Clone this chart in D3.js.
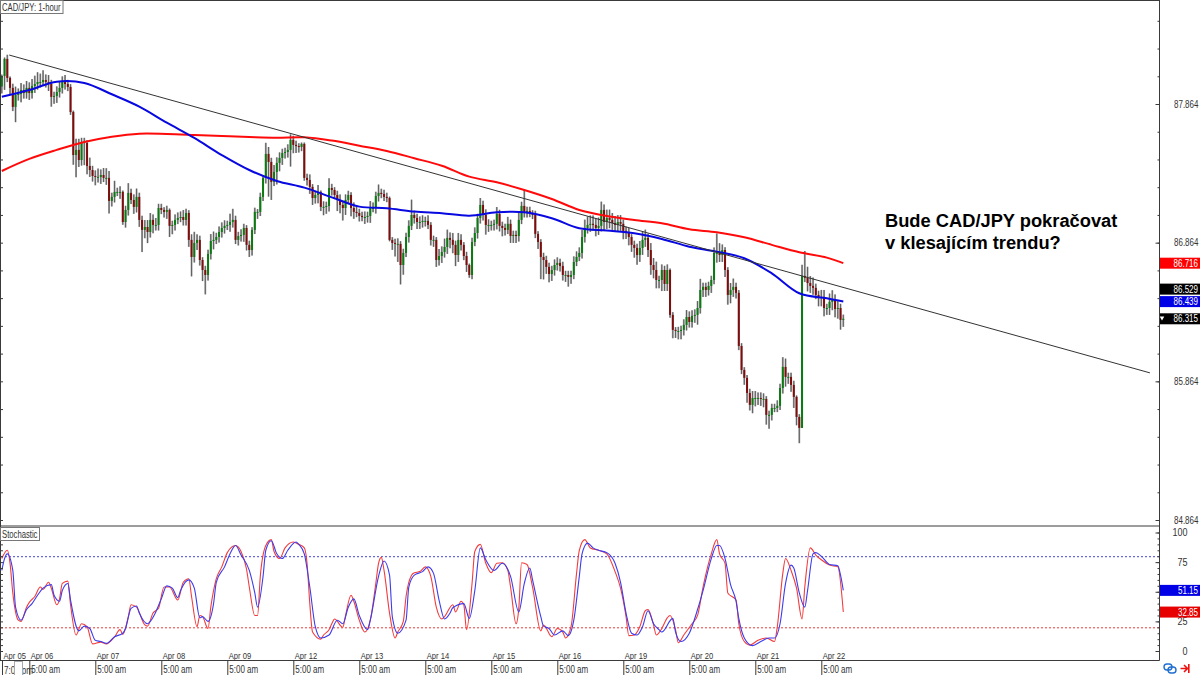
<!DOCTYPE html>
<html><head><meta charset="utf-8">
<script src="https://d3js.org/d3.v7.min.js"></script>
<style>
html,body{margin:0;padding:0;background:#fff}
svg{display:block}
text{font-family:"Liberation Sans",Arial,sans-serif}
</style></head><body>
<div id="chart"></div>
<script>
const closes=[88.066,88.189,88.052,87.980,87.843,87.929,87.936,87.965,87.943,87.980,
87.943,87.994,88.008,88.023,88.023,88.037,88.023,88.008,87.915,87.922,
87.951,87.980,88.023,88.008,87.987,87.806,87.496,87.533,87.460,87.590,
87.583,87.417,87.388,87.345,87.338,87.338,87.352,87.331,87.331,87.165,
87.194,87.230,87.230,87.230,87.013,87.100,87.223,87.172,87.122,87.194,
87.028,86.956,86.977,86.941,87.028,86.992,86.992,87.114,87.100,87.086,
87.100,86.985,86.992,87.028,87.042,87.049,87.028,87.078,86.884,86.761,
86.862,86.884,86.739,86.667,86.631,86.783,86.876,86.884,86.905,86.941,
86.970,86.985,86.992,87.013,87.028,86.884,86.912,86.920,86.970,86.848,
86.811,86.956,87.086,87.086,87.194,87.331,87.504,87.446,87.302,87.374,
87.439,87.475,87.511,87.518,87.533,87.605,87.569,87.561,87.554,87.576,
87.331,87.316,87.266,87.186,87.208,87.230,87.122,87.122,87.129,87.258,
87.244,87.208,87.172,87.136,87.114,87.172,87.208,87.114,87.086,87.078,
87.057,87.049,87.049,87.057,87.114,87.114,87.201,87.223,87.215,87.194,
87.186,86.884,86.862,86.855,86.855,86.703,86.790,86.905,86.985,87.064,
87.042,87.013,87.013,87.021,87.021,86.992,86.884,86.884,86.739,86.768,
86.797,86.833,86.898,86.884,86.848,86.775,86.884,86.848,86.768,86.703,
86.631,86.869,86.934,87.042,87.136,87.064,86.992,86.992,86.992,87.000,
87.071,86.985,86.970,86.956,87.000,86.912,86.920,86.912,87.028,87.129,
87.086,87.093,87.078,87.064,86.927,86.869,86.761,86.739,86.689,86.638,
86.667,86.703,86.718,86.696,86.631,86.631,86.617,86.631,86.725,86.761,
86.790,86.905,86.970,86.992,87.000,86.992,86.970,86.985,87.100,87.013,
87.042,87.028,87.006,86.992,87.013,87.000,86.949,86.941,86.905,86.848,
86.826,86.775,86.826,86.884,86.898,86.811,86.703,86.667,86.595,86.595,
86.667,86.566,86.667,86.343,86.235,86.227,86.227,86.235,86.271,86.328,
86.292,86.336,86.343,86.393,86.523,86.545,86.523,86.552,86.595,86.790,
86.790,86.775,86.811,86.667,86.487,86.523,86.545,86.502,86.119,85.946,
85.889,85.780,85.694,85.744,85.744,85.744,85.737,85.737,85.622,85.622,
85.672,85.672,85.687,85.816,85.968,85.896,85.896,85.838,85.752,85.607,
85.528,86.624,86.610,86.573,86.552,86.538,86.487,86.465,86.473,86.393,
86.393,86.437,86.451,86.386,86.393,86.307,86.315];
const firstOpen=87.99;
const upWickPips=[1,1,3,1,3,6,4,5,4,5,
4,5,6,7,6,7,4,5,3,3,
4,5,4,5,3,2,1,8,8,3,
3,2,6,3,4,6,4,5,7,5,
3,8,3,4,1,3,7,3,4,6,
3,3,5,5,5,4,5,3,3,2,
3,1,3,4,4,4,5,3,2,4,
8,4,3,2,3,3,5,6,3,4,
4,4,3,6,8,3,3,4,3,2,
3,2,3,2,3,2,8,5,3,5,
4,4,3,3,4,4,3,3,2,1,
1,3,4,2,3,5,1,4,3,7,
3,2,3,4,3,4,3,2,4,4,
3,3,4,3,5,4,3,6,3,3,
3,1,2,3,4,2,3,3,4,11,
3,3,4,4,3,4,2,3,2,5,
4,6,6,4,5,3,5,4,2,3,
1,3,4,3,5,3,4,4,3,3,
5,3,3,3,5,3,3,3,5,3,
12,3,3,2,3,2,2,3,3,3,
3,4,4,3,3,3,3,3,4,4,
4,5,6,6,6,6,5,6,6,4,
6,6,5,5,5,5,3,3,3,2,
3,3,5,6,6,3,5,5,6,3,
4,3,4,1,2,2,3,3,4,5,
4,4,4,5,8,3,3,3,3,4,
14,7,4,2,2,5,6,3,2,2,
2,2,3,5,5,4,4,4,2,3,
3,3,4,3,7,6,3,3,3,1,
2,8,18,8,5,6,3,3,5,5,
3,6,7,4,5,3,3];
const downWickPips=[5,10,3,5,3,11,4,6,4,4,
5,4,5,4,4,3,4,5,7,5,
5,4,4,4,3,2,7,16,5,4,
16,6,5,4,6,4,5,3,5,9,
4,4,3,5,2,4,4,3,5,4,
5,16,6,8,4,6,4,4,3,4,
5,8,6,4,3,3,4,4,5,14,
4,5,4,8,14,4,4,6,3,4,
4,4,3,5,4,3,4,4,5,4,
5,4,3,5,3,3,4,25,13,3,
9,6,5,4,4,12,6,5,4,3,
2,4,5,5,4,6,3,6,5,4,
4,3,8,6,9,5,3,6,5,3,
4,3,5,4,5,3,4,4,3,3,
3,1,5,9,13,14,7,3,4,3,
4,5,5,4,4,3,4,5,5,4,
5,4,5,6,6,8,5,4,3,5,
2,3,3,4,4,4,7,5,4,4,
4,4,6,4,3,5,5,5,4,3,
4,4,3,3,3,5,16,14,5,6,
5,4,4,4,4,5,7,5,3,3,
3,4,4,4,5,4,6,5,4,6,
5,6,5,5,5,5,6,5,6,5,
7,7,5,5,5,5,7,6,6,6,
8,5,5,2,6,5,6,6,4,4,
4,4,5,7,4,5,5,4,5,3,
7,5,5,5,7,6,5,4,3,3,
5,7,4,6,6,5,5,6,7,10,
4,3,3,3,4,7,5,5,8,6,
11,0,3,6,5,5,3,6,6,6,
5,5,6,6,7,7,5];

const maBars=[0,10,20,30,40,50,60,70,80,90,100,110,120,130,140,150,160,170,180,190,200,210,220,230,240,250,260,270,280,290,300,306];
const maBlue=[87.917,87.965,88.025,88.016,87.934,87.845,87.729,87.619,87.496,87.388,87.309,87.261,87.191,87.124,87.112,87.088,87.076,87.059,87.083,87.083,87.040,86.968,86.951,86.932,86.891,86.835,86.799,86.752,86.643,86.499,86.463,86.439];
const maRed=[87.381,87.468,87.533,87.590,87.628,87.650,87.648,87.641,87.633,87.626,87.621,87.624,87.600,87.563,87.525,87.473,87.419,87.340,87.300,87.244,87.179,87.100,87.057,87.028,87.004,86.961,86.939,86.903,86.848,86.795,86.756,86.716];

const trendBars=[2.7,417.5];
const trendPrices=[88.217,85.925];

const stochRedBars=[0,2,3,4,6,7,9,10,12,14,15,17,18,20,21,22,24,25,27,29,31,33,36,38,41,43,44,46,47,49,52,53,55,57,59,61,64,66,68,69,71,72,73,75,76,78,80,82,85,87,89,90,92,93,94,96,98,99,101,103,106,108,110,111,112,113,116,117,119,120,121,124,125,127,128,130,132,134,136,137,138,139,141,143,144,146,147,149,150,152,154,156,158,160,161,164,165,167,168,169,171,172,174,176,178,180,182,184,185,187,188,189,191,193,196,197,200,202,204,205,207,209,210,212,214,217,220,223,225,227,228,230,232,234,235,237,238,240,242,243,245,246,248,251,253,255,257,258,260,261,263,264,267,268,270,272,275,278,281,282,284,285,287,289,291,292,294,296,298,301,304,306];
const stochRed=[78,85,74,49,26,25,37,41,46,54,52,58,53,39,44,57,59,39,13.5,23,20.5,6,7.5,6,12,18,14,29,39,37,22,21,32,36,54,54,43,58,61,46,20.5,30,29,19,37,61,71,83,89,84,69,54,30,30,63,89,94,84,78,87,92,90,87,74,40,16,10,13.5,18,23,27,20,30,47,42,26,16,26,57,74,79,68,32,11,16,25,46,64,66,67,71,63,37,27,29,39,33,42,39,18,57,84,90,74,66,74,74.5,68,54,23,36,74.5,73,54,17,22,12,19,16,11,20.5,65.5,85,94,87,85,82,67,53,29,13,13.5,20.5,34,35,22,13.5,19,28,30,18,7,13.5,23,30,54,74,82,94,82,74,49,43,23,8,5,9,11,8,20.5,65.5,78,68,53,27,54,87,81,77,72.5,71,32.85];
const stochBlueBars=[0,1,2,4,5,7,9,11,13,15,18,19,21,22,24,25,28,30,32,34,36,38,41,44,45,47,49,50,53,54,56,58,60,62,64,65,68,70,72,73,75,77,78,81,83,85,87,90,92,93,95,96,98,100,102,104,107,108,110,112,114,116,119,122,124,126,128,130,133,134,137,139,141,142,144,147,148,150,153,155,157,159,161,163,164,168,170,172,174,176,179,182,185,188,190,192,193,196,197,199,201,204,206,208,210,211,213,215,217,220,223,225,227,229,231,233,235,237,239,240,244,245,247,250,253,255,258,260,261,263,265,267,268,270,273,276,279,281,283,285,287,288,290,292,293,295,296,298,301,304,305,306];
const stochBlue=[68,78,82,68,37,26,35,40,47,53,56,47,42,51,57,43,17,21,19,9,8,6.4,12,15,19,36,38,32,23,25,33,44,55,53,45,51,60,53,28,29,25,40,58,71,82,89,81,68,49,37,63,85,93,82,78,85,92,90,82,54,20.5,11,13.5,26,23,37,44,30,18,26,63,76,64,29,15,26,54,64,67,71,65.5,43,27,32,36.5,40,27.5,51,87,77,68,74,63,33,57,70,60,29,21,19,13.5,17,13,26,63,82,91,87,85,83,74,58,32,15,13.5,20.5,34,23,18,16,27.5,16,8,15,35,51,78,89,89,78,56,42,27.5,11,4.5,8,11,11,23,57,72.5,70,49,37,51,82,83,80,73,72,64,51.15];
const stochLevels=[80,20];

const priceMajor=[87.864,86.864,85.864,84.864];
const priceMinor=[84.864,85.064,85.264,85.464,85.664,85.864,86.064,86.264,86.464,86.664,86.864,87.064,87.264,87.464,87.664,87.864,88.064,88.264,88.464];
const stochMajor=[100,75,50,25,0];
const stochShown=[100,75,25,0];
const stochMinor=[0,5,10,15,20,25,30,35,40,45,50,55,60,65,70,75,80,85,90,95,100];
const dayBars=[10,34,58,82,106,130,154,178,202,226,250,274,298];
const dayLabels=["Apr 06","Apr 07","Apr 08","Apr 09","Apr 12","Apr 13","Apr 14","Apr 15","Apr 16","Apr 19","Apr 20","Apr 21","Apr 22"];
const firstBarLabel="Apr 05";
const firstTimeLabel="7:00 pm";
const timeLabel="5:00 am";
const priceTags=[["86.716","#ff0000"],["86.529","#000000"],["86.439","#0000e6"],["86.315","#000000"]];
const stochTags=[["51.15","#0000e6"],["32.85","#e60000"]];
const title="CAD/JPY: 1-hour";
const stochTitle="Stochastic";
const note=["Bude CAD/JPY pokračovat","v klesajícím trendu?"];

const W=1200,H=675,axisX=1159.5;
const svg=d3.select("#chart").append("svg").attr("width",W).attr("height",H);
const x=d3.scaleLinear().domain([0,306]).range([1.8,843.3]);
const y=d3.scaleLinear().domain([84.864,87.864]).range([520,104]);
const ys=d3.scaleLinear().domain([0,100]).range([651,532.5]);
// horizontally squeeze small labels to the terminal's narrow UI face
const condense=(sel,k=.8)=>sel.each(function(){
  const t=d3.select(this),tx=+t.attr("x")||0,ty=+t.attr("y")||0;
  t.attr("x",null).attr("y",null).attr("transform",`translate(${tx},${ty}) scale(${k},1)`);
});

const candles=closes.map((c,i)=>{
  const o=i?closes[i-1]:firstOpen;
  return {i,o,c,h:Math.max(o,c)+upWickPips[i]/100,l:Math.min(o,c)-downWickPips[i]/100};
});

const lev=svg.append("g");
lev.selectAll("line").data(stochLevels).join("line")
 .attr("x1",1).attr("x2",axisX).attr("y1",d=>ys(d)+.5).attr("y2",d=>ys(d)+.5)
 .attr("stroke",(d,i)=>i?"#e83a3a":"#4646d8").attr("stroke-width",1).attr("stroke-dasharray","2 2");

const cg=svg.append("g");
cg.append("g").selectAll("line").data(candles).join("line")
 .attr("x1",d=>x(d.i)).attr("x2",d=>x(d.i)).attr("y1",d=>y(d.h)).attr("y2",d=>y(d.l))
 .attr("stroke","#808080").attr("stroke-width",1.9).attr("stroke-opacity",.7);
cg.append("g").selectAll("line").data(candles).join("line")
 .attr("x1",d=>x(d.i)).attr("x2",d=>x(d.i)).attr("y1",d=>y(d.h)).attr("y2",d=>y(d.l))
 .attr("stroke","#404040").attr("stroke-width",.7);
cg.append("g").selectAll("rect").data(candles).join("rect")
 .attr("x",d=>x(d.i)-1).attr("width",2)
 .attr("y",d=>y(Math.max(d.o,d.c)))
 .attr("height",d=>Math.max(1,Math.abs(y(d.o)-y(d.c))))
 .attr("fill",d=>d.c>=d.o?"#0b7a12":"#7d0d0d");

const line=d3.line().curve(d3.curveCatmullRom.alpha(.5));
svg.append("path").attr("fill","none").attr("stroke","#ff0a0a").attr("stroke-width",2)
 .attr("d",line(maBars.map((b,i)=>[x(b),y(maRed[i])])));
svg.append("path").attr("fill","none").attr("stroke","#0808e0").attr("stroke-width",2)
 .attr("d",line(maBars.map((b,i)=>[x(b),y(maBlue[i])])));
svg.append("line").attr("x1",x(trendBars[0])).attr("y1",y(trendPrices[0])).attr("x2",x(trendBars[1])).attr("y2",y(trendPrices[1]))
 .attr("stroke","#333").attr("stroke-width",1);

const sl=d3.line().curve(d3.curveMonotoneX);
svg.append("path").attr("fill","none").attr("stroke","#f23c3c").attr("stroke-width",1.1)
 .attr("d",sl(stochRedBars.map((b,i)=>[x(b),ys(stochRed[i])])));
svg.append("path").attr("fill","none").attr("stroke","#3c3cec").attr("stroke-width",1.1)
 .attr("d",sl(stochBlueBars.map((b,i)=>[x(b),ys(stochBlue[i])])));

const frame="#3a3a3a";
[[0,.5,axisX,.5],[0,526,axisX,526],[0,660.5,axisX,660.5],[.5,0,.5,660.5],[axisX,0,axisX,660.5]].forEach(l=>
 svg.append("line").attr("x1",l[0]).attr("y1",l[1]).attr("x2",l[2]).attr("y2",l[3]).attr("stroke",frame).attr("stroke-width",1));

const bare=g=>{g.select(".domain").remove();g.selectAll("line").attr("stroke",frame);};
const labelled=g=>{bare(g);g.selectAll("text").attr("fill","#333").attr("font-size",10).attr("font-family",'"Liberation Sans",sans-serif');};
svg.append("g").attr("transform",`translate(${axisX},0)`).call(d3.axisRight(y).tickValues(priceMinor).tickSize(-2).tickFormat("")).call(bare);
svg.append("g").attr("transform",`translate(${axisX},0)`).call(d3.axisRight(y).tickValues(priceMajor).tickSize(-4).tickPadding(14.5).tickFormat(d3.format(".3f"))).call(labelled)
 .selectAll("text").call(condense);
svg.append("g").attr("transform","translate(1,0)").call(d3.axisRight(y).tickValues(priceMinor).tickSize(2).tickFormat("")).call(bare);
svg.append("g").attr("transform",`translate(${axisX},0)`).call(d3.axisRight(ys).tickValues(stochMinor).tickSize(-2).tickFormat("")).call(bare);
svg.append("g").attr("transform",`translate(${axisX},0)`).call(d3.axisRight(ys).tickValues(stochMajor).tickSize(-4).tickFormat("")).call(bare);
svg.append("g").attr("transform",`translate(${axisX},0)`).call(d3.axisRight(ys).tickValues(stochShown).tickSize(0).tickPadding(28).tickFormat(d3.format("d"))).call(labelled)
 .selectAll("text").attr("text-anchor","end").call(condense,.9);
svg.append("g").attr("transform","translate(1,0)").call(d3.axisRight(ys).tickValues(stochMinor).tickSize(2).tickFormat("")).call(bare);

const timeAxis=d3.axisBottom(x).tickValues(dayBars).tickSize(15).tickPadding(0).tickFormat(()=>timeLabel);
const tg=svg.append("g").attr("transform","translate(0,660.5)").call(timeAxis).call(labelled);
tg.selectAll("text").attr("text-anchor","start").attr("x",1.5).attr("y",5).attr("dy","0.71em").call(condense);
svg.append("line").attr("x1",x(.25)).attr("x2",x(.25)).attr("y1",660.5).attr("y2",675).attr("stroke",frame);
svg.append("text").attr("x",x(.25)+1.5).attr("y",673.5).attr("fill","#333").attr("font-size",10).text(firstTimeLabel).call(condense);
svg.append("rect").attr("x",14.5).attr("y",661.5).attr("width",8).attr("height",14).attr("fill","#fff").attr("stroke","#aaa");
svg.append("g").selectAll("text").data(dayLabels).join("text")
 .attr("x",(d,i)=>x(dayBars[i])+1.5).attr("y",659).attr("fill","#333").attr("font-size",9.5).text(d=>d).call(condense);
svg.append("text").attr("x",3.5).attr("y",659).attr("fill","#333").attr("font-size",9.5).text(firstBarLabel).call(condense);

function tag(v,col,yy,tri){
 svg.append("rect").attr("x",axisX+.5).attr("y",yy-5.5).attr("width",W-axisX).attr("height",11).attr("fill",col);
 svg.append("text").attr("x",1198).attr("y",yy+3.6).attr("text-anchor","end").attr("fill","#fff").attr("font-size",10).text(v).call(condense);
 if(tri) svg.append("path").attr("d",d3.symbol(d3.symbolTriangle,9)()).attr("transform",`translate(1162,${yy-1}) rotate(180)`).attr("fill","#fff");
}
priceTags.forEach((t,i)=>tag(t[0],t[1],y(+t[0]),i===3));
stochTags.forEach(t=>tag(t[0],t[1],ys(+t[0]),false));

function boxLabel(txt,bx,by,bw,bh){
 svg.append("rect").attr("x",bx).attr("y",by).attr("width",bw).attr("height",bh).attr("fill","#fff").attr("stroke","#777");
 svg.append("text").attr("x",bx+1.5).attr("y",by+bh-3).attr("fill","#333").attr("font-size",10).text(txt).call(condense,.77);
}
boxLabel(title,.5,.5,62.5,13);
boxLabel(stochTitle,.5,527.5,39,13);

svg.append("g").selectAll("text").data(note).join("text")
 .attr("x",885).attr("y",(d,i)=>227+i*22).attr("fill","#000").attr("font-weight",700)
 .attr("font-size",18.3).text(d=>d);

const ic=svg.append("g").attr("fill","none");
ic.append("rect").attr("x",1164).attr("y",664).attr("width",8).attr("height",6).attr("rx",3).attr("stroke","#1f6fd0").attr("stroke-width",1.4);
ic.append("rect").attr("x",1168).attr("y",667).attr("width",8).attr("height",6).attr("rx",3).attr("stroke","#1f6fd0").attr("stroke-width",1.4);
ic.append("path").attr("d","M1180.5 668.5h7M1184 665l3.5 3.5-3.5 3.5M1188.8 664v9").attr("stroke","#f01010").attr("stroke-width",1.6);
</script>
</body></html>
